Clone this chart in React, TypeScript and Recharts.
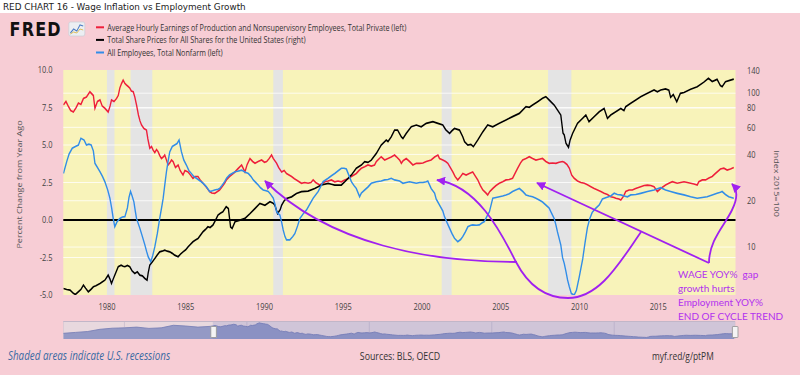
import React from 'react';
import { ComposedChart, Line, XAxis, YAxis, ReferenceArea, ReferenceLine, CartesianGrid, AreaChart, Area } from 'recharts';

// Average Hourly Earnings of Production and Nonsupervisory Employees, % chg from year ago (left)
const wageGrowth: [number, number][] = [
  [1977.24, 7.67], [1977.4, 7.9], [1977.56, 7.56], [1977.7, 7.3], [1977.87, 7.2], [1978.05, 7.5], [1978.19, 7.8], [1978.35, 7.7],
  [1978.51, 8.1], [1978.7, 8.2], [1978.92, 8.55], [1979.05, 8.4], [1979.14, 8.3], [1979.24, 7.45], [1979.4, 7.9], [1979.56, 8.0],
  [1979.7, 7.6], [1979.87, 7.45], [1980.08, 7.2], [1980.2, 7.6], [1980.29, 8.0], [1980.45, 7.9], [1980.61, 8.1], [1980.72, 8.3],
  [1980.82, 8.8], [1980.93, 9.1], [1981.03, 9.33], [1981.14, 9.1], [1981.24, 9.0], [1981.35, 8.9], [1981.45, 8.8], [1981.55, 8.6],
  [1981.67, 8.55], [1981.77, 8.2], [1981.88, 7.67], [1982.0, 7.0], [1982.1, 6.6], [1982.2, 6.33], [1982.35, 6.1], [1982.51, 6.0],
  [1982.6, 5.4], [1982.72, 4.78], [1982.83, 4.9], [1982.93, 4.67], [1983.04, 4.5], [1983.15, 4.7], [1983.25, 4.55], [1983.35, 4.3],
  [1983.46, 4.1], [1983.57, 4.2], [1983.67, 4.33], [1983.78, 4.0], [1983.88, 3.67], [1983.99, 3.8], [1984.1, 4.0], [1984.2, 3.9],
  [1984.35, 3.5], [1984.52, 3.67], [1984.65, 3.3], [1984.83, 3.0], [1984.95, 3.3], [1985.15, 3.2], [1985.3, 3.0], [1985.46, 2.78],
  [1985.6, 2.9], [1985.78, 2.9], [1985.9, 2.7], [1986.1, 2.45], [1986.3, 2.2], [1986.52, 1.9], [1986.65, 1.8], [1986.84, 1.78],
  [1986.95, 1.85], [1987.15, 2.0], [1987.3, 2.2], [1987.47, 2.45], [1987.6, 2.7], [1987.78, 2.9], [1988.13, 3.2], [1988.3, 3.4],
  [1988.55, 3.67], [1988.76, 3.2], [1988.9, 3.7], [1989.08, 4.1], [1989.25, 3.9], [1989.4, 3.78], [1989.6, 3.9], [1989.82, 4.0],
  [1990.0, 3.85], [1990.14, 3.9], [1990.3, 4.1], [1990.45, 4.33], [1990.56, 4.1], [1990.77, 3.78], [1990.9, 3.5], [1991.09, 3.2],
  [1991.25, 3.3], [1991.4, 3.1], [1991.72, 2.9], [1991.9, 2.75], [1992.03, 2.67], [1992.35, 2.45], [1992.55, 2.5], [1992.77, 2.45],
  [1992.95, 2.5], [1993.09, 2.67], [1993.25, 2.5], [1993.51, 2.33], [1993.7, 2.45], [1993.83, 2.55], [1994.04, 2.6], [1994.25, 2.67],
  [1994.46, 2.55], [1994.67, 2.6], [1994.88, 2.55], [1995.09, 2.67], [1995.3, 2.75], [1995.52, 2.9], [1995.83, 3.1], [1996.0, 3.3],
  [1996.15, 3.45], [1996.36, 3.55], [1996.57, 3.67], [1996.78, 3.6], [1996.99, 3.67], [1997.1, 3.9], [1997.41, 4.22], [1997.63, 4.0],
  [1997.84, 4.1], [1998.05, 4.2], [1998.26, 4.33], [1998.37, 4.22], [1998.58, 4.0], [1998.69, 3.78], [1998.8, 3.95], [1999.0, 4.1],
  [1999.21, 3.9], [1999.42, 3.67], [1999.64, 3.78], [1999.85, 3.78], [2000.06, 3.8], [2000.27, 3.9], [2000.58, 4.0], [2000.8, 4.2],
  [2001.01, 4.33], [2001.11, 4.1], [2001.32, 4.0], [2001.5, 3.9], [2001.64, 3.78], [2001.85, 3.4], [2001.96, 3.2], [2002.1, 2.9],
  [2002.27, 2.67], [2002.45, 2.9], [2002.59, 3.1], [2002.8, 3.0], [2003.0, 3.1], [2003.22, 3.2], [2003.4, 2.9], [2003.54, 2.67],
  [2003.7, 2.3], [2003.86, 2.0], [2004.06, 1.8], [2004.17, 1.67], [2004.3, 1.9], [2004.49, 2.1], [2004.7, 2.3], [2004.91, 2.45],
  [2005.12, 2.55], [2005.33, 2.67], [2005.54, 2.7], [2005.75, 2.78], [2005.9, 3.1], [2006.07, 3.45], [2006.25, 3.8], [2006.39, 4.0],
  [2006.6, 4.1], [2006.81, 4.22], [2007.02, 4.1], [2007.23, 4.0], [2007.44, 4.05], [2007.65, 4.1], [2007.86, 3.9], [2008.07, 3.78],
  [2008.28, 3.8], [2008.5, 3.78], [2008.7, 3.85], [2008.92, 3.9], [2009.03, 3.85], [2009.2, 3.7], [2009.35, 3.45], [2009.5, 3.0],
  [2009.66, 2.78], [2009.87, 2.6], [2010.08, 2.5], [2010.3, 2.45], [2010.5, 2.35], [2010.72, 2.22], [2010.93, 2.1], [2011.14, 2.0],
  [2011.35, 1.9], [2011.56, 1.78], [2011.77, 1.7], [2011.98, 1.55], [2012.19, 1.5], [2012.3, 1.45], [2012.5, 1.4], [2012.62, 1.33],
  [2012.8, 1.6], [2012.93, 1.9], [2013.14, 2.0], [2013.35, 2.0], [2013.56, 2.1], [2013.88, 2.22], [2014.1, 2.3], [2014.31, 2.33],
  [2014.52, 2.3], [2014.73, 2.22], [2014.94, 1.9], [2015.15, 2.1], [2015.46, 2.33], [2015.67, 2.45], [2015.89, 2.55], [2016.2, 2.45],
  [2016.42, 2.5], [2016.63, 2.55], [2016.84, 2.5], [2017.05, 2.45], [2017.26, 2.4], [2017.47, 2.33], [2017.57, 2.55], [2017.79, 2.67],
  [2018.0, 2.67], [2018.21, 2.8], [2018.42, 2.9], [2018.62, 3.1], [2018.73, 3.2], [2018.94, 3.4], [2019.16, 3.45], [2019.37, 3.33],
  [2019.58, 3.4], [2019.79, 3.5],
];

// Total Share Prices for All Shares for the United States, index 2015=100 (right, log)
const sharePrices: [number, number][] = [
  [1977.24, 5.38], [1977.45, 5.3], [1977.66, 5.25], [1977.87, 5.0], [1978.0, 4.92], [1978.19, 5.12], [1978.35, 5.3], [1978.51, 5.66],
  [1978.65, 5.4], [1978.82, 5.12], [1978.98, 5.3], [1979.14, 5.52], [1979.3, 5.6], [1979.56, 5.8], [1979.72, 5.95], [1979.87, 6.09],
  [1980.08, 6.57], [1980.19, 6.2], [1980.29, 5.8], [1980.4, 6.2], [1980.5, 6.57], [1980.61, 7.0], [1980.72, 7.45], [1980.9, 7.63],
  [1981.03, 7.5], [1981.14, 7.45], [1981.3, 7.6], [1981.45, 7.45], [1981.6, 7.0], [1981.77, 6.74], [1981.93, 6.9], [1982.09, 6.57],
  [1982.25, 6.5], [1982.41, 6.25], [1982.55, 6.09], [1982.62, 6.8], [1982.72, 7.63], [1982.88, 8.0], [1983.04, 8.43], [1983.2, 8.9],
  [1983.35, 9.31], [1983.5, 9.4], [1983.67, 9.55], [1983.83, 9.4], [1983.99, 9.31], [1984.15, 9.1], [1984.3, 8.86], [1984.52, 8.65],
  [1984.67, 9.0], [1984.83, 9.31], [1985.0, 9.6], [1985.15, 10.04], [1985.3, 10.4], [1985.46, 10.82], [1985.62, 11.1], [1985.78, 11.37],
  [1985.95, 12.0], [1986.1, 12.58], [1986.25, 13.0], [1986.41, 13.55], [1986.55, 13.4], [1986.73, 13.9], [1986.9, 15.0], [1987.05, 16.15],
  [1987.2, 16.6], [1987.36, 16.96], [1987.57, 18.3], [1987.71, 17.8], [1987.85, 13.5], [1987.95, 13.2], [1988.13, 14.6], [1988.45, 14.97],
  [1988.76, 15.35], [1989.08, 16.5], [1989.4, 17.8], [1989.71, 19.2], [1990.03, 18.7], [1990.35, 19.7], [1990.55, 19.3], [1990.66, 18.7],
  [1990.83, 16.5], [1991.0, 17.5], [1991.09, 18.7], [1991.25, 20.0], [1991.4, 20.7], [1991.72, 21.2], [1992.03, 22.3], [1992.35, 22.9],
  [1992.77, 23.1], [1993.19, 24.0], [1993.62, 25.3], [1994.04, 25.9], [1994.25, 25.6], [1994.46, 25.3], [1994.88, 25.3], [1995.09, 26.5],
  [1995.52, 29.4], [1995.83, 32.5], [1996.15, 34.1], [1996.36, 35.9], [1996.57, 35.5], [1996.78, 36.7], [1997.1, 40.6], [1997.41, 46.0],
  [1997.73, 49.6], [1997.84, 48.5], [1998.05, 52.1], [1998.26, 57.6], [1998.45, 57.6], [1998.69, 52.0], [1998.79, 50.8], [1999.0, 54.8],
  [1999.32, 60.5], [1999.64, 62.1], [1999.95, 60.5], [2000.27, 63.7], [2000.69, 65.3], [2001.01, 63.7], [2001.32, 62.1], [2001.5, 58.0],
  [2001.75, 54.8], [2001.9, 57.0], [2002.06, 59.0], [2002.38, 57.6], [2002.59, 52.0], [2002.7, 48.4], [2002.91, 46.0], [2003.1, 46.5],
  [2003.26, 44.9], [2003.54, 49.6], [2003.86, 56.1], [2004.17, 62.1], [2004.49, 60.5], [2004.91, 63.7], [2005.33, 67.0], [2005.75, 70.4],
  [2006.18, 73.9], [2006.6, 81.7], [2006.81, 81.0], [2007.02, 83.8], [2007.34, 88.1], [2007.65, 92.6], [2007.86, 94.9], [2008.07, 90.3],
  [2008.39, 83.8], [2008.6, 77.8], [2008.81, 72.1], [2008.95, 55.0], [2009.03, 53.5], [2009.14, 47.2], [2009.3, 44.5], [2009.4, 49.6],
  [2009.56, 54.8], [2009.87, 63.7], [2010.19, 68.6], [2010.4, 72.1], [2010.6, 65.3], [2010.93, 70.4], [2011.25, 75.8], [2011.56, 79.6],
  [2011.77, 68.6], [2011.98, 72.1], [2012.3, 75.8], [2012.62, 79.6], [2012.82, 77.0], [2012.93, 81.7], [2013.25, 85.9], [2013.57, 90.3],
  [2013.88, 94.9], [2014.31, 99.8], [2014.73, 104.9], [2014.94, 102.0], [2015.15, 104.9], [2015.46, 106.5], [2015.67, 104.5], [2015.78, 94.0],
  [2015.95, 98.0], [2016.17, 88.0], [2016.4, 99.8], [2016.63, 101.0], [2017.05, 106.0], [2017.47, 110.2], [2017.89, 118.0], [2018.18, 125.0],
  [2018.42, 119.0], [2018.73, 123.0], [2018.94, 112.0], [2019.05, 110.2], [2019.26, 118.7], [2019.58, 121.7], [2019.79, 123.5],
];

// All Employees, Total Nonfarm, % chg from year ago (left)
const payrollGrowth: [number, number][] = [
  [1977.24, 3.1], [1977.45, 3.9], [1977.6, 4.4], [1977.8, 4.78], [1978.0, 4.9], [1978.19, 5.0], [1978.35, 5.45], [1978.55, 5.33],
  [1978.7, 5.0], [1978.85, 5.05], [1979.0, 5.0], [1979.14, 4.6], [1979.24, 3.78], [1979.4, 3.5], [1979.56, 3.22], [1979.72, 2.9],
  [1979.87, 2.55], [1980.05, 2.0], [1980.19, 1.45], [1980.3, 0.8], [1980.4, 0.1], [1980.5, -0.45], [1980.65, -0.1], [1980.82, 0.1],
  [1980.98, 0.2], [1981.14, 0.22], [1981.3, 0.8], [1981.4, 1.5], [1981.5, 1.9], [1981.6, 1.6], [1981.71, 1.22], [1981.8, 0.6],
  [1981.88, 0.1], [1982.09, -0.55], [1982.25, -1.1], [1982.41, -1.67], [1982.52, -2.1], [1982.62, -2.45], [1982.78, -2.78], [1982.9, -2.4],
  [1983.04, -1.78], [1983.2, -0.9], [1983.35, 0.1], [1983.5, 1.0], [1983.57, 1.45], [1983.68, 2.4], [1983.78, 3.22], [1983.88, 3.9],
  [1983.99, 4.55], [1984.15, 4.9], [1984.3, 5.0], [1984.45, 5.1], [1984.58, 5.33], [1984.73, 4.55], [1984.88, 4.0], [1985.04, 3.67],
  [1985.2, 3.3], [1985.36, 3.1], [1985.52, 2.9], [1985.68, 2.78], [1985.85, 2.65], [1985.99, 2.55], [1986.15, 2.4], [1986.31, 2.22],
  [1986.52, 1.9], [1986.7, 1.95], [1986.84, 2.0], [1987.05, 2.05], [1987.15, 2.1], [1987.3, 2.3], [1987.47, 2.55], [1987.6, 2.8],
  [1987.78, 3.0], [1988.13, 3.22], [1988.3, 3.25], [1988.55, 3.33], [1988.75, 3.2], [1988.98, 3.1], [1989.15, 2.9], [1989.29, 2.67],
  [1989.45, 2.5], [1989.61, 2.33], [1989.75, 2.15], [1989.92, 2.0], [1990.1, 1.95], [1990.24, 1.9], [1990.4, 1.7], [1990.56, 1.45],
  [1990.68, 1.0], [1990.77, 0.55], [1990.9, 0.4], [1990.98, 0.33], [1991.1, -0.2], [1991.19, -0.67], [1991.3, -1.1], [1991.4, -1.33],
  [1991.61, -1.33], [1991.8, -1.1], [1991.93, -0.9], [1992.1, -0.4], [1992.25, 0.1], [1992.45, 0.4], [1992.67, 0.67], [1992.9, 1.1],
  [1993.09, 1.45], [1993.41, 1.9], [1993.6, 2.3], [1993.72, 2.55], [1994.04, 2.78], [1994.25, 2.95], [1994.46, 3.1], [1994.7, 3.3],
  [1994.88, 3.45], [1995.05, 3.45], [1995.2, 3.4], [1995.35, 3.0], [1995.52, 2.55], [1995.68, 2.3], [1995.83, 2.1], [1996.04, 1.55],
  [1996.15, 1.8], [1996.36, 2.0], [1996.57, 2.2], [1996.78, 2.45], [1997.1, 2.55], [1997.41, 2.6], [1997.63, 2.67], [1997.84, 2.7],
  [1998.05, 2.78], [1998.26, 2.67], [1998.58, 2.6], [1998.79, 2.45], [1999.0, 2.5], [1999.21, 2.55], [1999.42, 2.5], [1999.64, 2.45],
  [1999.85, 2.5], [2000.06, 2.5], [2000.27, 2.55], [2000.37, 2.6], [2000.58, 2.1], [2000.8, 1.78], [2000.9, 1.4], [2001.11, 1.0],
  [2001.32, 0.6], [2001.43, 0.22], [2001.6, -0.2], [2001.75, -0.55], [2001.9, -0.9], [2002.06, -1.22], [2002.27, -1.45], [2002.45, -1.3],
  [2002.59, -1.1], [2002.75, -0.8], [2002.91, -0.45], [2003.1, -0.35], [2003.22, -0.33], [2003.45, -0.35], [2003.64, -0.33], [2003.8, -0.2],
  [2003.96, -0.1], [2004.1, 0.2], [2004.28, 0.55], [2004.49, 1.45], [2004.7, 1.5], [2004.91, 1.55], [2005.12, 1.6], [2005.33, 1.67],
  [2005.54, 1.75], [2005.75, 1.9], [2005.95, 2.0], [2006.18, 2.1], [2006.4, 1.9], [2006.6, 1.67], [2006.81, 1.6], [2007.02, 1.55],
  [2007.23, 1.45], [2007.44, 1.33], [2007.65, 1.2], [2007.86, 1.0], [2008.07, 0.8], [2008.18, 0.55], [2008.39, 0.1], [2008.5, -0.33],
  [2008.6, -0.8], [2008.81, -1.67], [2008.92, -2.5], [2009.03, -2.9], [2009.14, -3.45], [2009.24, -4.0], [2009.35, -4.45], [2009.48, -4.9],
  [2009.66, -5.0], [2009.8, -4.7], [2009.98, -3.8], [2010.2, -2.6], [2010.35, -1.5], [2010.5, -0.5], [2010.65, 0.1], [2010.8, 0.5],
  [2011.0, 0.75], [2011.25, 1.0], [2011.45, 1.4], [2011.7, 1.5], [2011.98, 1.6], [2012.2, 1.78], [2012.4, 1.7], [2012.62, 1.67],
  [2012.83, 1.6], [2013.04, 1.55], [2013.25, 1.67], [2013.57, 1.7], [2013.88, 1.78], [2014.31, 1.9], [2014.73, 2.0], [2015.15, 2.15],
  [2015.46, 2.0], [2015.78, 1.9], [2016.2, 1.78], [2016.63, 1.67], [2017.05, 1.55], [2017.47, 1.45], [2017.79, 1.5], [2018.1, 1.55],
  [2018.42, 1.67], [2018.73, 1.78], [2018.94, 1.85], [2019.05, 1.9], [2019.26, 1.7], [2019.47, 1.55], [2019.79, 1.45],
];

// wage series before the zoomed window, only seen in the navigator strip
const wageGrowthEarly: [number, number][] = [
  [1965, 3.6], [1966, 4.1], [1967, 4.6], [1968, 5.8], [1969, 6.4], [1970, 6.6], [1971, 7.0],
  [1972, 6.3], [1973, 6.6], [1974, 8.0], [1975, 7.6], [1976, 7.0], [1977, 7.4],
];

const recessions: [number, number][] = [
  [1980.0, 1980.48], [1981.5, 1982.88], [1990.56, 1991.17], [2001.25, 2001.88], [2008.0, 2009.48],
];

const yearTicks = [1980, 1985, 1990, 1995, 2000, 2005, 2010, 2015];
const leftTicks = [-5, -2.5, 0, 2.5, 5, 7.5, 10];
const rightTicks = [10, 20, 40, 60, 80, 100, 140];
const navTicks = [1970, 1980, 1990, 2000, 2010];

const legendItems = [
  { label: 'Average Hourly Earnings of Production and Nonsupervisory Employees, Total Private (left)', color: '#ee1f3b' },
  { label: 'Total Share Prices for All Shares for the United States (right)', color: '#000000' },
  { label: 'All Employees, Total Nonfarm (left)', color: '#318de8' },
];
const noteLines = ['WAGE YOY%  gap', 'growth hurts', 'Employment YOY%', 'END OF CYCLE TREND'];

const X_MIN = 1977.23;
const X_MAX = 2019.9;
const NAV_MIN = 1965;

const PINK = '#f7cdd5';
const YELLOW = '#f8f3ba';
const PURPLE = '#a020f0';
const FONT = '"Open Sans", sans-serif';

const toPts = (arr: [number, number][]) => arr.map(([year, v]) => ({ year, v }));

function NavTick(props: any) {
  const { x, y, payload } = props;
  return (
    <text x={x + 3} y={y - 4} fontSize={9} fill="#a596b0" fontFamily={FONT}>
      {payload.value}
    </text>
  );
}

export default function App() {
  const wagePts = toPts(wageGrowth);
  const sharePts = toPts(sharePrices);
  const payrollPts = toPts(payrollGrowth);
  const navPts = toPts([...wageGrowthEarly, ...wageGrowth]);

  // layout in the 1000px-wide FRED frame that gets squeezed to 800
  const plotLeft = 79.1;
  const plotRight = 919.4;
  const navW = plotRight - plotLeft;
  const selStart = ((X_MIN - NAV_MIN) / (X_MAX - NAV_MIN)) * navW;

  return (
    <div style={{ position: 'absolute', left: 0, top: 0, width: 800, height: 375, background: '#fff', overflow: 'hidden' }}>
      <style>{'body{margin:0;overflow:hidden}'}</style>

      <svg width={800} height={14} style={{ position: 'absolute', left: 0, top: 0 }}>
        <text x={3} y={10} fontSize={8.8} fill="#222" fontFamily='"DejaVu Sans", sans-serif'>
          RED CHART 16 - Wage Inflation vs Employment Growth
        </text>
      </svg>

      <div style={{ position: 'absolute', left: 0, top: 0, width: 1000, height: 375, transform: 'scaleX(0.8)', transformOrigin: '0 0' }}>
        <svg width={1000} height={375} style={{ position: 'absolute', left: 0, top: 0 }}>
          <rect x={0} y={13} width={1000} height={362} fill={PINK} />
          <text x={12} y={36} fontSize={20} fontWeight={700} fill="#111" fontFamily='"DejaVu Sans", sans-serif' letterSpacing={1.5}>
            FRED
          </text>
          <rect x={86} y={22} width={20} height={14} rx={2} fill="#eceff3" stroke="#c9ced6" strokeWidth={0.8} />
          <polyline points="88,33 92,29 96,31 100,25 104,26" fill="none" stroke="#4b7cc4" strokeWidth={1.2} />
          <polyline points="88,34 92,32 96,33 100,29 104,30" fill="none" stroke="#d9b84a" strokeWidth={1} />
          {legendItems.map((it, i) => (
            <g key={it.label}>
              <line x1={120} x2={130} y1={27.3 + i * 12.6} y2={27.3 + i * 12.6} stroke={it.color} strokeWidth={2} />
              <text x={134} y={30.7 + i * 12.6} fontSize={9} fill="#333" fontFamily={FONT}>{it.label}</text>
            </g>
          ))}
          <text transform="translate(28,184.5) rotate(-90)" textAnchor="middle" fontSize={9} fill="#555" fontFamily={FONT}>
            Percent Change from Year Ago
          </text>
          <text transform="translate(968,183.5) rotate(90)" textAnchor="middle" fontSize={9} fill="#555" fontFamily={FONT}>
            Index 2015=100
          </text>
          <text x={10} y={360} fontSize={12.3} fontStyle="italic" fill="#3a6aa3" fontFamily={FONT}>
            Shaded areas indicate U.S. recessions
          </text>
          <text x={500} y={360} textAnchor="middle" fontSize={11} fill="#333" fontFamily={FONT}>
            Sources: BLS, OECD
          </text>
          <text x={815} y={360} fontSize={10.5} fill="#333" fontFamily={FONT}>
            myf.red/g/ptPM
          </text>
        </svg>

        <div style={{ position: 'absolute', left: 0, top: 0 }}>
          <ComposedChart width={1000} height={375} margin={{ top: 70, right: 1000 - plotRight - 80, bottom: 60, left: 0 }}>
            <CartesianGrid horizontal={false} vertical={false} fill={YELLOW} fillOpacity={1} yAxisId="left" />
            <XAxis
              type="number"
              dataKey="year"
              domain={[X_MIN, X_MAX]}
              ticks={yearTicks}
              allowDataOverflow
              height={20}
              axisLine={false}
              tickLine={false}
              tickSize={0}
              tickMargin={8}
              interval={0}
              tick={{ fontSize: 9.3, fill: '#444', fontFamily: FONT }}
            />
            <YAxis
              yAxisId="left"
              domain={[-5, 10]}
              ticks={leftTicks}
              allowDataOverflow
              width={plotLeft}
              interval={0}
              axisLine={false}
              tickLine={false}
              tickSize={0}
              tickMargin={13.5}
              tickFormatter={(v: number) => v.toFixed(1)}
              tick={{ fontSize: 9.3, fill: '#444', fontFamily: FONT }}
            />
            <YAxis
              yAxisId="right"
              orientation="right"
              scale="log"
              domain={[4.88, 141.5]}
              ticks={rightTicks}
              allowDataOverflow
              width={80}
              interval={0}
              axisLine={false}
              tickLine={false}
              tickSize={0}
              tickMargin={14.3}
              tick={{ fontSize: 9.3, fill: '#444', fontFamily: FONT, textAnchor: 'start' }}
            />
            {recessions.map(([a, b]) => (
              <ReferenceArea key={a} yAxisId="left" x1={a} x2={b} fill="#e4e4e4" fillOpacity={1} stroke="none" />
            ))}
            {leftTicks.filter((t) => t !== 0 && t !== -5 && t !== 10).map((t) => (
              <ReferenceLine key={'l' + t} yAxisId="left" y={t} stroke="#ffffff" strokeOpacity={0.85} strokeWidth={1} />
            ))}
            {rightTicks.filter((t) => t !== 140).map((t) => (
              <ReferenceLine key={'r' + t} yAxisId="right" y={t} stroke="#ffffff" strokeOpacity={0.85} strokeWidth={1} />
            ))}
            <ReferenceLine yAxisId="left" y={0} stroke="#000" strokeWidth={1.8} />
            <Line yAxisId="left" data={wagePts} dataKey="v" type="linear" stroke="#ee1f3b" strokeWidth={1.7} dot={false} isAnimationActive={false} />
            <Line yAxisId="right" data={sharePts} dataKey="v" type="linear" stroke="#000" strokeWidth={1.7} dot={false} isAnimationActive={false} />
            <Line yAxisId="left" data={payrollPts} dataKey="v" type="linear" stroke="#318de8" strokeWidth={1.7} dot={false} isAnimationActive={false} />
          </ComposedChart>
        </div>

        <div style={{ position: 'absolute', left: plotLeft, top: 321, width: navW, height: 17, background: '#e8d8de', borderTop: '1px solid #c2b6c8' }}>
          <AreaChart width={navW} height={17} data={navPts} margin={{ top: 0, right: 0, bottom: 0, left: 0 }}>
            <CartesianGrid horizontal={false} stroke="#cdbfcf" />
            <XAxis type="number" dataKey="year" domain={[NAV_MIN, X_MAX]} ticks={navTicks} height={0} axisLine={false} tickLine={false} tick={NavTick} allowDataOverflow />
            <YAxis hide domain={[0.5, 9.8]} allowDataOverflow />
            <Area type="linear" dataKey="v" stroke="#7b81b7" strokeWidth={1} fill="#9499c5" fillOpacity={1} isAnimationActive={false} />
          </AreaChart>
          <div style={{ position: 'absolute', left: selStart, top: 0, width: navW - selStart, height: 17, background: 'rgba(102,110,190,0.18)' }} />
          <div style={{ position: 'absolute', left: selStart - 3.5, top: 4, width: 6, height: 10, background: '#f4f4f4', border: '1px solid #999', borderRadius: 1 }} />
          <div style={{ position: 'absolute', left: navW - 4, top: 4, width: 6, height: 10, background: '#f4f4f4', border: '1px solid #999', borderRadius: 1 }} />
        </div>
      </div>

      <svg width={800} height={375} style={{ position: 'absolute', left: 0, top: 0, pointerEvents: 'none' }}>
        <defs>
          <marker id="ah" viewBox="0 0 10 10" refX={9} refY={5} markerWidth={9} markerHeight={9} markerUnits="userSpaceOnUse" orient="auto">
            <path d="M0,0 L10,5 L0,10 z" fill={PURPLE} />
          </marker>
        </defs>
        <g fill="none" stroke={PURPLE} strokeWidth={1.8}>
          <path d="M709,263 L537,183" markerEnd="url(#ah)" />
          <path d="M709,263 C709,240 725,225 732,210 C738,198 738,190 732,184" markerEnd="url(#ah)" />
          <path d="M517,262 C430,262 330,245 265,181" markerEnd="url(#ah)" />
          <path d="M641,232 C620,262 600,298 568,298 C545,298 528,285 516,262 C504,239 480,186 437,180" markerEnd="url(#ah)" />
        </g>
        {noteLines.map((t, i) => (
          <text key={t} x={678} y={278.3 + i * 13.9} fontSize={10} fill="#b232ee" fontFamily="Lato, sans-serif" style={{ whiteSpace: 'pre' }}>
            {t}
          </text>
        ))}
      </svg>
    </div>
  );
}
